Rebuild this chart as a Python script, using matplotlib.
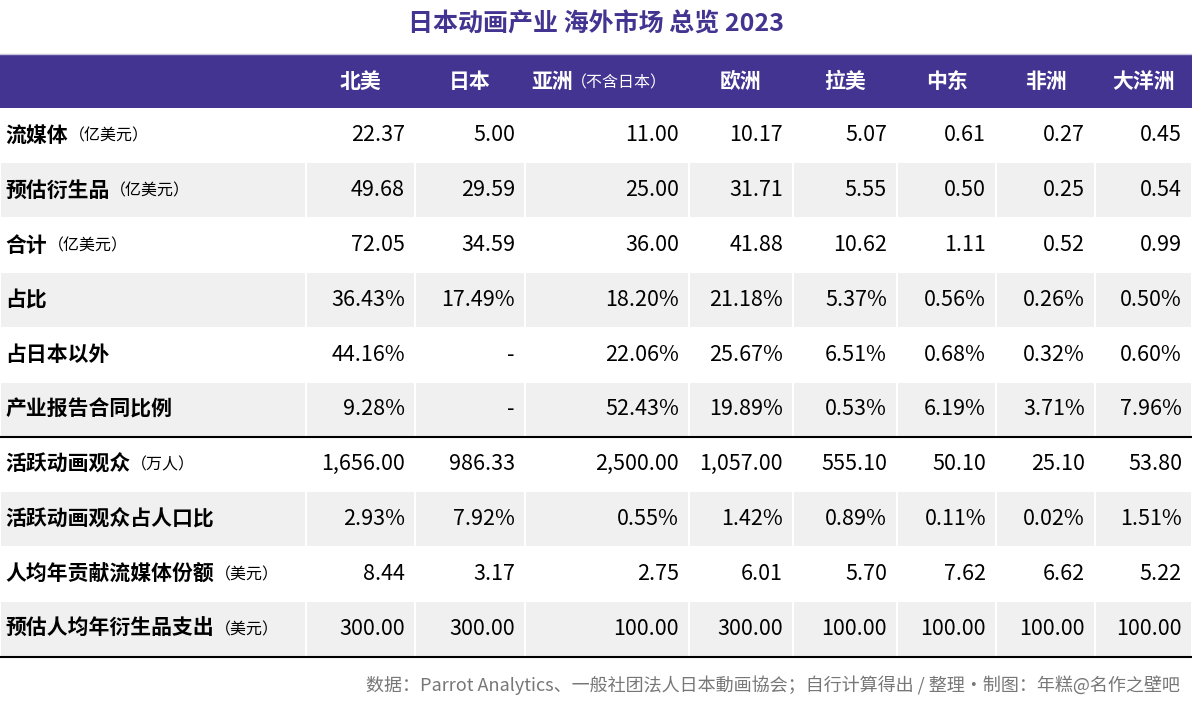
import matplotlib
matplotlib.use("Agg")
import matplotlib.pyplot as plt
from matplotlib.patches import Rectangle

plt.rcParams['font.family'] = ['Noto Sans CJK SC', 'DejaVu Sans']

title = "日本动画产业 海外市场 总览 2023"
regions = ["北美", "日本", "亚洲", "欧洲", "拉美", "中东", "非洲", "大洋洲"]
region_notes = ["", "", "（不含日本）", "", "", "", "", ""]
row_names = ["流媒体", "预估衍生品", "合计", "占比", "占日本以外", "产业报告合同比例",
             "活跃动画观众", "活跃动画观众占人口比", "人均年贡献流媒体份额", "预估人均年衍生品支出"]
row_units = ["（亿美元）", "（亿美元）", "（亿美元）", "", "", "", "（万人）", "", "（美元）", "（美元）"]
values = [
    ["22.37", "5.00", "11.00", "10.17", "5.07", "0.61", "0.27", "0.45"],
    ["49.68", "29.59", "25.00", "31.71", "5.55", "0.50", "0.25", "0.54"],
    ["72.05", "34.59", "36.00", "41.88", "10.62", "1.11", "0.52", "0.99"],
    ["36.43%", "17.49%", "18.20%", "21.18%", "5.37%", "0.56%", "0.26%", "0.50%"],
    ["44.16%", "-", "22.06%", "25.67%", "6.51%", "0.68%", "0.32%", "0.60%"],
    ["9.28%", "-", "52.43%", "19.89%", "0.53%", "6.19%", "3.71%", "7.96%"],
    ["1,656.00", "986.33", "2,500.00", "1,057.00", "555.10", "50.10", "25.10", "53.80"],
    ["2.93%", "7.92%", "0.55%", "1.42%", "0.89%", "0.11%", "0.02%", "1.51%"],
    ["8.44", "3.17", "2.75", "6.01", "5.70", "7.62", "6.62", "5.22"],
    ["300.00", "300.00", "100.00", "300.00", "100.00", "100.00", "100.00", "100.00"],
]
source = "数据：Parrot Analytics、一般社团法人日本動画協会；自行计算得出 / 整理・制图：年糕@名作之壁吧"

W, H = 1192, 712
fig = plt.figure(figsize=(W/100, H/100), dpi=100)
ax = fig.add_axes([0, 0, 1, 1])
ax.set_xlim(0, W); ax.set_ylim(H, 0); ax.axis('off')

purple = "#433491"
bounds = [0, 306, 415, 525, 689, 793, 897, 996, 1095, 1192]
hdr_top, hdr_bot = 55, 108
rh = 54.8

ax.text(W/2, 25, title, ha='center', va='center', fontsize=18, fontweight='bold', color=purple)
ax.add_patch(Rectangle((0, hdr_top), W, hdr_bot-hdr_top, color=purple, lw=0))
ax.plot([0, W], [hdr_top-1, hdr_top-1], color="#c8c4dc", lw=1)

cy = (hdr_top+hdr_bot)/2
for j, (r, n) in enumerate(zip(regions, region_notes)):
    l, rr = bounds[j+1], bounds[j+2]
    if n:
        ax.text(l+6, cy, r, ha='left', va='center', fontsize=15, fontweight='bold', color='white')
        ax.text(l+46, cy+1, n, ha='left', va='center', fontsize=11.5, color='white')
    else:
        ax.text((l+rr)/2, cy, r, ha='center', va='center', fontsize=15, fontweight='bold', color='white')

for i, (name, unit) in enumerate(zip(row_names, row_units)):
    top = hdr_bot + i*rh
    ry = top + rh/2
    if i % 2 == 1:
        for k in range(len(bounds)-1):
            ax.add_patch(Rectangle((bounds[k]+0.8, top+0.5), bounds[k+1]-bounds[k]-1.6, rh-1,
                                   color="#f0f0f0", lw=0))
    t = ax.text(5, ry, name, ha='left', va='center', fontsize=15, fontweight='bold', color='black')
    if unit:
        fig.canvas.draw()
        bb = t.get_window_extent().transformed(ax.transData.inverted())
        ax.text(bb.x1+1, ry+1, unit, ha='left', va='center', fontsize=11.5, color='black')
    for j, v in enumerate(values[i]):
        ax.text(bounds[j+2]-10, ry, v, ha='right', va='center', fontsize=15.5, color='black')

ax.plot([0, W], [hdr_bot+6*rh, hdr_bot+6*rh], color='black', lw=1.5)
ax.plot([0, W], [hdr_bot+10*rh+1, hdr_bot+10*rh+1], color='black', lw=1.5)
ax.text(W-12, 685, source, ha='right', va='center', fontsize=13, color='#777777')

fig.savefig("out.png", dpi=100)
